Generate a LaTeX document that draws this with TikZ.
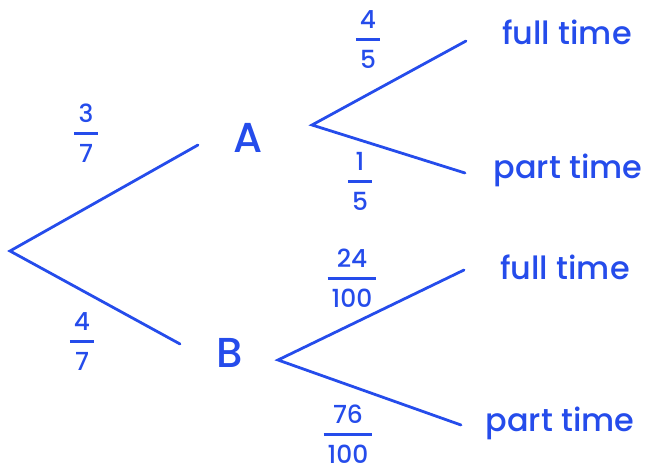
\documentclass[tikz,border=0pt]{standalone}
\usepackage{fontspec}
\setmainfont{Poppins}[UprightFont=*-Medium]
\usepackage{tikz}
\usetikzlibrary{calc}
\definecolor{pen}{RGB}{37,76,235}
\setlength{\arrayrulewidth}{2.6pt}
\newcommand{\frc}[2]{\begin{tabular}{@{\,}c@{\,}}#1\\[1pt]\hline\rule{0pt}{1.1em}#2\end{tabular}}

\begin{document}
\begin{tikzpicture}[x=1bp,y=-1bp,line width=2.8pt,color=pen,line cap=round,
  lbl/.style={font=\fontsize{32}{36}\selectfont},
  evt/.style={font=\fontsize{42}{46}\selectfont},
  prob/.style={font=\fontsize{25}{28}\selectfont,inner sep=0pt}]
  \useasboundingbox (0,0) rectangle (646,475);
  % branch ends
  \coordinate (o) at (10,251);
  \coordinate (a-in) at (198,145); \coordinate (a-out) at (312,125);
  \coordinate (b-in) at (180,344); \coordinate (b-out) at (278,360);
  \coordinate (af) at (466,41); \coordinate (ap) at (465,173);
  \coordinate (bf) at (464,270); \coordinate (bp) at (461,425);
  \draw (a-in)--(o)--(b-in);
  \draw (af)--(a-out)--(ap);
  \draw (bf)--(b-out)--(bp);
  % events
  \node[evt] (A) at (248,138) {A};
  \node[evt] (B) at (230,353) {B};
  \node[lbl] (A-full) at (567,32) {full time};
  \node[lbl] (A-part) at (568,170) {part time};
  \node[lbl] (B-full) at (565,267) {full time};
  \node[lbl] (B-part) at (560,423) {part time};
  % probabilities
  \node[prob] (pA) at (86,137) {\frc{3}{7}};
  \node[prob] (pB) at (82,345) {\frc{4}{7}};
  \node[prob] (pAf) at (368,43) {\frc{4}{5}};
  \node[prob] (pAp) at (360,185) {\frc{1}{5}};
  \node[prob] (pBf) at (352,282) {\frc{24}{100}};
  \node[prob] (pBp) at (348,438) {\frc{76}{100}};
\end{tikzpicture}
\end{document}
